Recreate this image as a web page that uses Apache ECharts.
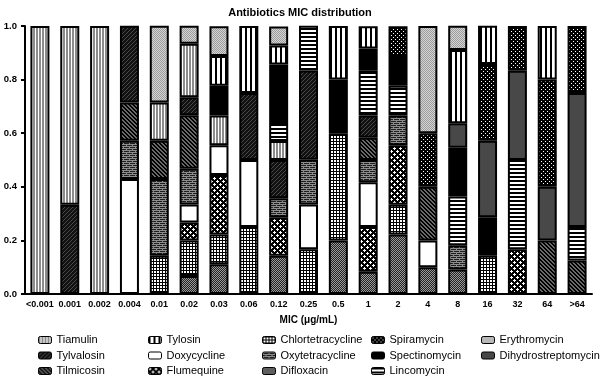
<!DOCTYPE html>
<html>
<head>
<meta charset="utf-8">
<script src="https://cdn.jsdelivr.net/npm/echarts@6/dist/echarts.min.js"></script>
<style>
  html, body { margin: 0; padding: 0; background: #fff; }
  #chart { width: 600px; height: 379px; }
</style>
</head>
<body>
<div id="chart"></div>
<script>
// MIC categories (x axis)
const micLabels = ["<0.001", "0.001", "0.002", "0.004", "0.01", "0.02", "0.03", "0.06", "0.12",
  "0.25", "0.5", "1", "2", "4", "8", "16", "32", "64", ">64"];
const yTicks = [0, 0.2, 0.4, 0.6, 0.8, 1.0];

// proportion of isolates per MIC, one array per antibiotic (null = none)
const difloxacin =        [null, null, null, null, null, 0.067, 0.111, null, 0.143, null, 0.2, 0.083, 0.222, 0.1, 0.091, null, null, null, null];
const chlortetracycline = [null, null, null, null, 0.143, 0.133, 0.111, 0.25, null, 0.167, 0.4, null, 0.111, null, null, 0.143, null, null, null];
const flumequine =        [null, null, null, null, null, 0.067, 0.222, null, 0.143, null, null, 0.167, 0.222, null, null, null, 0.167, null, null];
const doxycycline =       [null, null, null, 0.429, null, 0.067, 0.111, 0.25, null, 0.167, null, 0.167, null, 0.1, null, null, null, null, null];
const oxytetracycline =   [null, null, null, 0.143, 0.286, 0.133, null, null, 0.071, 0.167, null, 0.083, 0.111, null, 0.091, null, null, null, null];
const tilmicosin =        [null, null, null, 0.143, 0.143, 0.2, null, null, null, null, null, 0.083, null, 0.2, null, null, null, 0.2, 0.125];
const tylvalosin =        [null, 0.333, null, 0.286, null, 0.067, null, 0.25, 0.143, 0.333, null, 0.083, null, null, null, null, null, null, null];
const tiamulin =          [1, 0.667, 1, null, 0.143, 0.2, 0.111, null, 0.071, null, null, null, null, null, null, null, null, null, null];
const lincomycin =        [null, null, null, null, null, null, null, null, 0.071, 0.167, null, 0.167, 0.111, null, 0.182, null, 0.333, null, 0.125];
const spectinomycin =     [null, null, null, null, null, null, 0.111, null, 0.214, null, 0.2, 0.083, 0.111, null, 0.182, 0.143, null, null, null];
const dihydrostreptomycin=[null, null, null, null, null, null, null, null, null, null, null, null, null, null, 0.091, 0.286, 0.333, 0.2, 0.5];
const spiramycin =        [null, null, null, null, null, null, null, null, null, null, null, null, 0.111, 0.2, null, 0.286, 0.167, 0.4, 0.25];
const tylosin =           [null, null, null, null, null, null, 0.111, 0.25, 0.071, null, 0.2, 0.083, null, null, 0.273, 0.143, null, 0.2, null];
const erythromycin =      [null, null, null, null, 0.286, 0.067, 0.111, null, 0.071, null, null, null, null, 0.4, 0.091, null, null, null, null];

// small tiled canvases for the black & white fills
function tile(w, h, bg, pts, fg) {
  const c = document.createElement("canvas");
  c.width = w; c.height = h;
  const ctx = c.getContext("2d");
  ctx.fillStyle = bg;
  ctx.fillRect(0, 0, w, h);
  ctx.fillStyle = fg || "#000";
  (pts || []).forEach(p => ctx.fillRect(p[0], p[1], p[2] || 1, p[3] || 1));
  return { image: c, repeat: "repeat" };
}

const fills = {
  Difloxacin: tile(2, 2, "#222", [[0, 0], [1, 1]], "#9a9a9a"),
  Chlortetracycline: tile(3, 3, "#fff", [[0, 0, 3, 1], [0, 0, 1, 3]], "#000"),
  Flumequine: tile(6, 6, "#000", [[1, 0], [0, 1, 3, 1], [1, 2], [4, 3], [3, 4, 3, 1], [4, 5]], "#fff"),
  Doxycycline: "#fff",
  Oxytetracycline: tile(6, 4, "#1e1e1e", [[0, 0, 6, 1], [0, 2, 6, 1], [0, 1], [3, 3]], "#8c8c8c"),
  Tilmicosin: tile(4, 4, "#6a6a6a", [[0, 0, 2, 1], [1, 1, 2, 1], [2, 2, 2, 1], [3, 3], [0, 3]], "#000"),
  Tylvalosin: tile(4, 4, "#111", [[3, 0], [2, 1], [1, 2], [0, 3]], "#4a4a4a"),
  Tiamulin: tile(3, 1, "#fff", [[0, 0, 2, 1]], "#8c8c8c"),
  Lincomycin: tile(1, 4, "#fff", [[0, 0, 1, 2]], "#000"),
  Spectinomycin: "#000",
  Dihydrostreptomycin: "#484848",
  Spiramycin: tile(4, 4, "#000", [[1, 1], [3, 3]], "#fff"),
  Tylosin: tile(5, 1, "#fff", [[0, 0, 2, 1]], "#000"),
  Erythromycin: tile(2, 2, "#d4d4d4", [[0, 0], [1, 1]], "#9c9c9c")
};

// bottom to top of each stack
const stackOrder = [
  ["Difloxacin", difloxacin],
  ["Chlortetracycline", chlortetracycline],
  ["Flumequine", flumequine],
  ["Doxycycline", doxycycline],
  ["Oxytetracycline", oxytetracycline],
  ["Tilmicosin", tilmicosin],
  ["Tylvalosin", tylvalosin],
  ["Tiamulin", tiamulin],
  ["Lincomycin", lincomycin],
  ["Spectinomycin", spectinomycin],
  ["Dihydrostreptomycin", dihydrostreptomycin],
  ["Spiramycin", spiramycin],
  ["Tylosin", tylosin],
  ["Erythromycin", erythromycin]
];

const legendCols = [
  ["Tiamulin", "Tylvalosin", "Tilmicosin"],
  ["Tylosin", "Doxycycline", "Flumequine"],
  ["Chlortetracycline", "Oxytetracycline", "Difloxacin"],
  ["Spiramycin", "Spectinomycin", "Lincomycin"],
  ["Erythromycin", "Dihydrostreptomycin"]
];
const legendLeft = [38, 148, 262, 371, 481];

const font = "Liberation Sans, Arial, sans-serif";
const chart = echarts.init(document.getElementById("chart"));

const option = {
  animation: false,
  title: {
    text: "Antibiotics MIC distribution",
    left: "center",
    top: 2,
    textStyle: { fontFamily: font, fontSize: 11, fontWeight: "bold", color: "#000" }
  },
  legend: legendCols.map((names, i) => ({
    data: names,
    orient: "vertical",
    left: legendLeft[i],
    top: 334.5,
    padding: 0,
    itemWidth: 13,
    itemHeight: 7,
    itemGap: 4.5,
    selectedMode: false,
    itemStyle: { borderColor: "#000", borderWidth: 1 },
    textStyle: { fontFamily: font, fontSize: 11, color: "#000" }
  })),
  grid: { left: 25, right: 8, top: 26, bottom: 85 },
  xAxis: {
    type: "category",
    data: micLabels,
    name: "MIC (μg/mL)",
    nameLocation: "middle",
    nameGap: 21,
    nameTextStyle: { fontFamily: font, fontSize: 10, fontWeight: "bold", color: "#000" },
    axisLine: { lineStyle: { color: "#000", width: 2 } },
    axisTick: { alignWithLabel: true, length: 4, lineStyle: { color: "#000", width: 1.5 } },
    axisLabel: { interval: 0, margin: 6, fontFamily: font, fontSize: 9, fontWeight: "bold", color: "#000" }
  },
  yAxis: {
    type: "value",
    min: 0,
    max: 1,
    interval: 0.2,
    axisLine: { show: true, lineStyle: { color: "#000", width: 2 } },
    axisTick: { show: true, length: 4, lineStyle: { color: "#000", width: 2 } },
    splitLine: { show: false },
    axisLabel: {
      margin: 8,
      fontFamily: font, fontSize: 9.5, fontWeight: "bold", color: "#000",
      formatter: v => (yTicks.includes(+v.toFixed(1)) ? v.toFixed(1) : "")
    }
  },
  series: stackOrder.map(([name, values]) => ({
    name,
    type: "bar",
    stack: "mic",
    barWidth: 19,
    data: values,
    itemStyle: { color: fills[name], borderColor: "#000", borderWidth: 2 }
  }))
};

chart.setOption(option);
</script>
</body>
</html>
